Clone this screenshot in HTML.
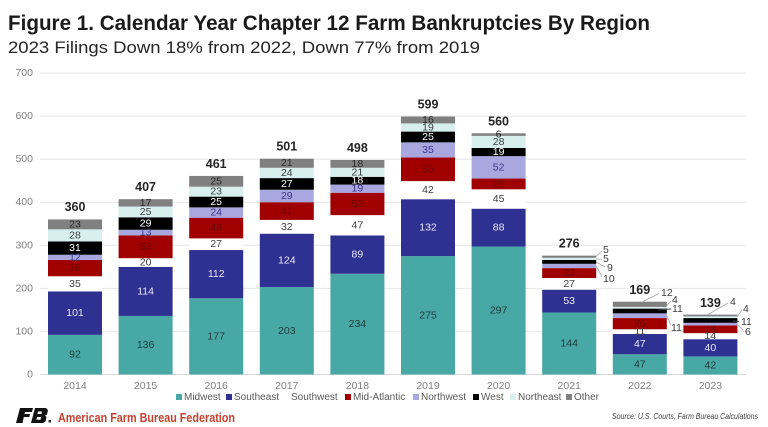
<!DOCTYPE html>
<html>
<head>
<meta charset="utf-8">
<style>
  html,body{margin:0;padding:0;background:#fff;}
  svg{display:block;font-family:"Liberation Sans",Arial,sans-serif;}
  .mw{fill:#47a8a6}.se{fill:#2f3192}.sw{fill:#ffffff}.ma{fill:#a00000}
  .nw{fill:#a9a7df}.w{fill:#000}.ne{fill:#d7efed}.o{fill:#808080}
  .lb{font-size:10.5px;text-anchor:middle;dominant-baseline:central;}
  .tmw{fill:#1f3b3b}.tse{fill:#e8e8f6}.tsw{fill:#404040}.tma{fill:#6a0808}
  .tnw{fill:#3a3a8c}.tw{fill:#ffffff}.tne{fill:#404040}.to{fill:#2a2a2a}
  .tot{font-size:12.5px;font-weight:bold;text-anchor:middle;dominant-baseline:central;fill:#262626}
  .ax{font-size:10.5px;fill:#7f7f7f;}
  .side{font-size:10.5px;fill:#404040;dominant-baseline:central;}
  .leg{font-size:10px;fill:#595959;dominant-baseline:central;}
</style>
</head>
<body>
<svg width="768" height="427" viewBox="0 0 768 427" xmlns="http://www.w3.org/2000/svg">
<rect width="768" height="427" fill="#fff"/>

<!-- Title -->
<text x="8" y="30" font-size="21" font-weight="bold" fill="#1a1a1a" textLength="642" lengthAdjust="spacingAndGlyphs">Figure 1. Calendar Year Chapter 12 Farm Bankruptcies By Region</text>
<text x="8" y="53" font-size="17" fill="#262626" textLength="472" lengthAdjust="spacingAndGlyphs">2023 Filings Down 18% from 2022, Down 77% from 2019</text>

<!-- Gridlines -->
<g stroke="#e6e6e6" stroke-width="1">
  <line x1="40" x2="746" y1="73" y2="73"/>
  <line x1="40" x2="746" y1="116.1" y2="116.1"/>
  <line x1="40" x2="746" y1="159.2" y2="159.2"/>
  <line x1="40" x2="746" y1="202.2" y2="202.2"/>
  <line x1="40" x2="746" y1="245.3" y2="245.3"/>
  <line x1="40" x2="746" y1="288.4" y2="288.4"/>
  <line x1="40" x2="746" y1="331.4" y2="331.4"/>
  <line x1="40" x2="746" y1="374.5" y2="374.5" stroke="#d9d9d9"/>
</g>

<!-- Y axis labels -->
<g class="ax" text-anchor="end" dominant-baseline="central">
  <text x="33" y="73">700</text>
  <text x="33" y="116.1">600</text>
  <text x="33" y="159.2">500</text>
  <text x="33" y="202.2">400</text>
  <text x="33" y="245.3">300</text>
  <text x="33" y="288.4">200</text>
  <text x="33" y="331.4">100</text>
  <text x="33" y="374.5">0</text>
</g>

<!-- Bars -->
<g transform="matrix(1 0 0 -0.4307 0 374.5)">
  <!-- 2014 -->
  <rect class="mw" x="48" y="0" width="54" height="92"/>
  <rect class="se" x="48" y="92" width="54" height="101"/>
  <rect class="sw" x="48" y="193" width="54" height="35"/>
  <rect class="ma" x="48" y="228" width="54" height="38"/>
  <rect class="nw" x="48" y="266" width="54" height="12"/>
  <rect class="w" x="48" y="278" width="54" height="31"/>
  <rect class="ne" x="48" y="309" width="54" height="28"/>
  <rect class="o" x="48" y="337" width="54" height="23"/>
  <!-- 2015 -->
  <rect class="mw" x="118.6" y="0" width="54" height="136"/>
  <rect class="se" x="118.6" y="136" width="54" height="114"/>
  <rect class="sw" x="118.6" y="250" width="54" height="20"/>
  <rect class="ma" x="118.6" y="270" width="54" height="53"/>
  <rect class="nw" x="118.6" y="323" width="54" height="13"/>
  <rect class="w" x="118.6" y="336" width="54" height="29"/>
  <rect class="ne" x="118.6" y="365" width="54" height="25"/>
  <rect class="o" x="118.6" y="390" width="54" height="17"/>
  <!-- 2016 -->
  <rect class="mw" x="189.2" y="0" width="54" height="177"/>
  <rect class="se" x="189.2" y="177" width="54" height="112"/>
  <rect class="sw" x="189.2" y="289" width="54" height="27"/>
  <rect class="ma" x="189.2" y="316" width="54" height="48"/>
  <rect class="nw" x="189.2" y="364" width="54" height="24"/>
  <rect class="w" x="189.2" y="388" width="54" height="25"/>
  <rect class="ne" x="189.2" y="413" width="54" height="23"/>
  <rect class="o" x="189.2" y="436" width="54" height="25"/>
  <!-- 2017 -->
  <rect class="mw" x="259.8" y="0" width="54" height="203"/>
  <rect class="se" x="259.8" y="203" width="54" height="124"/>
  <rect class="sw" x="259.8" y="327" width="54" height="32"/>
  <rect class="ma" x="259.8" y="359" width="54" height="41"/>
  <rect class="nw" x="259.8" y="400" width="54" height="29"/>
  <rect class="w" x="259.8" y="429" width="54" height="27"/>
  <rect class="ne" x="259.8" y="456" width="54" height="24"/>
  <rect class="o" x="259.8" y="480" width="54" height="21"/>
  <!-- 2018 -->
  <rect class="mw" x="330.4" y="0" width="54" height="234"/>
  <rect class="se" x="330.4" y="234" width="54" height="89"/>
  <rect class="sw" x="330.4" y="323" width="54" height="47"/>
  <rect class="ma" x="330.4" y="370" width="54" height="52"/>
  <rect class="nw" x="330.4" y="422" width="54" height="19"/>
  <rect class="w" x="330.4" y="441" width="54" height="18"/>
  <rect class="ne" x="330.4" y="459" width="54" height="21"/>
  <rect class="o" x="330.4" y="480" width="54" height="18"/>
  <!-- 2019 -->
  <rect class="mw" x="401" y="0" width="54" height="275"/>
  <rect class="se" x="401" y="275" width="54" height="132"/>
  <rect class="sw" x="401" y="407" width="54" height="42"/>
  <rect class="ma" x="401" y="449" width="54" height="55"/>
  <rect class="nw" x="401" y="504" width="54" height="35"/>
  <rect class="w" x="401" y="539" width="54" height="25"/>
  <rect class="ne" x="401" y="564" width="54" height="19"/>
  <rect class="o" x="401" y="583" width="54" height="16"/>
  <!-- 2020 -->
  <rect class="mw" x="471.6" y="0" width="54" height="297"/>
  <rect class="se" x="471.6" y="297" width="54" height="88"/>
  <rect class="sw" x="471.6" y="385" width="54" height="45"/>
  <rect class="ma" x="471.6" y="430" width="54" height="25"/>
  <rect class="nw" x="471.6" y="455" width="54" height="52"/>
  <rect class="w" x="471.6" y="507" width="54" height="19"/>
  <rect class="ne" x="471.6" y="526" width="54" height="28"/>
  <rect class="o" x="471.6" y="554" width="54" height="6"/>
  <!-- 2021 -->
  <rect class="mw" x="542.2" y="0" width="54" height="144"/>
  <rect class="se" x="542.2" y="144" width="54" height="53"/>
  <rect class="sw" x="542.2" y="197" width="54" height="27"/>
  <rect class="ma" x="542.2" y="224" width="54" height="23"/>
  <rect class="nw" x="542.2" y="247" width="54" height="10"/>
  <rect class="w" x="542.2" y="257" width="54" height="9"/>
  <rect class="ne" x="542.2" y="266" width="54" height="5"/>
  <rect class="o" x="542.2" y="271" width="54" height="5"/>
  <!-- 2022 -->
  <rect class="mw" x="612.8" y="0" width="54" height="47"/>
  <rect class="se" x="612.8" y="47" width="54" height="47"/>
  <rect class="sw" x="612.8" y="94" width="54" height="11"/>
  <rect class="ma" x="612.8" y="105" width="54" height="26"/>
  <rect class="nw" x="612.8" y="131" width="54" height="11"/>
  <rect class="w" x="612.8" y="142" width="54" height="11"/>
  <rect class="ne" x="612.8" y="153" width="54" height="4"/>
  <rect class="o" x="612.8" y="157" width="54" height="12"/>
  <!-- 2023 -->
  <rect class="mw" x="683.4" y="0" width="54" height="42"/>
  <rect class="se" x="683.4" y="42" width="54" height="40"/>
  <rect class="sw" x="683.4" y="82" width="54" height="14"/>
  <rect class="ma" x="683.4" y="96" width="54" height="18"/>
  <rect class="nw" x="683.4" y="114" width="54" height="6"/>
  <rect class="w" x="683.4" y="120" width="54" height="11"/>
  <rect class="ne" x="683.4" y="131" width="54" height="4"/>
  <rect class="o" x="683.4" y="135" width="54" height="4"/>
</g>

<!-- Segment labels -->
<g class="lb">
  <!-- 2014 cx 75 -->
  <text class="tmw" x="75" y="354.7">92</text>
  <text class="tse" x="75" y="313.1">101</text>
  <text class="tsw" x="75" y="283.8">35</text>
  <text class="tma" x="75" y="268.1">38</text>
  <text class="tnw" x="75" y="257.3">12</text>
  <text class="tw" x="75" y="248.1">31</text>
  <text class="tne" x="75" y="235.4">28</text>
  <text class="to" x="75" y="224.4">23</text>
  <!-- 2015 cx 145.6 -->
  <text class="tmw" x="145.6" y="345.2">136</text>
  <text class="tse" x="145.6" y="291.4">114</text>
  <text class="tsw" x="145.6" y="262.5">20</text>
  <text class="tma" x="145.6" y="246.8">53</text>
  <text class="tnw" x="145.6" y="232.6">13</text>
  <text class="tw" x="145.6" y="223.5">29</text>
  <text class="tne" x="145.6" y="211.9">25</text>
  <text class="to" x="145.6" y="202.9">17</text>
  <!-- 2016 cx 216.2 -->
  <text class="tmw" x="216.2" y="336.4">177</text>
  <text class="tse" x="216.2" y="274.1">112</text>
  <text class="tsw" x="216.2" y="244.2">27</text>
  <text class="tma" x="216.2" y="228.1">48</text>
  <text class="tnw" x="216.2" y="212.6">24</text>
  <text class="tw" x="216.2" y="202">25</text>
  <text class="tne" x="216.2" y="191.7">23</text>
  <text class="to" x="216.2" y="181.3">25</text>
  <!-- 2017 cx 286.8 -->
  <text class="tmw" x="286.8" y="330.8">203</text>
  <text class="tse" x="286.8" y="260.4">124</text>
  <text class="tsw" x="286.8" y="226.8">32</text>
  <text class="tma" x="286.8" y="211">41</text>
  <text class="tnw" x="286.8" y="196">29</text>
  <text class="tw" x="286.8" y="183.9">27</text>
  <text class="tne" x="286.8" y="172.9">24</text>
  <text class="to" x="286.8" y="163.2">21</text>
  <!-- 2018 cx 357.4 -->
  <text class="tmw" x="357.4" y="324.1">234</text>
  <text class="tse" x="357.4" y="254.5">89</text>
  <text class="tsw" x="357.4" y="225.3">47</text>
  <text class="tma" x="357.4" y="203.9">52</text>
  <text class="tnw" x="357.4" y="188.7">19</text>
  <text class="tw" x="357.4" y="180.7">18</text>
  <text class="tne" x="357.4" y="172.3">21</text>
  <text class="to" x="357.4" y="163.9">18</text>
  <!-- 2019 cx 428 -->
  <text class="tmw" x="428" y="315.3">275</text>
  <text class="tse" x="428" y="227.6">132</text>
  <text class="tsw" x="428" y="190.2">42</text>
  <text class="tma" x="428" y="169.3">55</text>
  <text class="tnw" x="428" y="149.9">35</text>
  <text class="tw" x="428" y="137">25</text>
  <text class="tne" x="428" y="127.5">19</text>
  <text class="to" x="428" y="120">16</text>
  <!-- 2020 cx 498.6 -->
  <text class="tmw" x="498.6" y="310.5">297</text>
  <text class="tse" x="498.6" y="227.6">88</text>
  <text class="tsw" x="498.6" y="199">45</text>
  <text class="tma" x="498.6" y="183.9">25</text>
  <text class="tnw" x="498.6" y="167.3">52</text>
  <text class="tw" x="498.6" y="152">19</text>
  <text class="tne" x="498.6" y="141.9">28</text>
  <text class="to" x="498.6" y="134.6">6</text>
  <!-- 2021 cx 569.2 -->
  <text class="tmw" x="569.2" y="343.5">144</text>
  <text class="tse" x="569.2" y="301.1">53</text>
  <text class="tsw" x="569.2" y="283.8">27</text>
  <text class="tma" x="569.2" y="273.1">23</text>
  <!-- 2022 cx 639.8 -->
  <text class="tmw" x="639.8" y="364.4">47</text>
  <text class="tse" x="639.8" y="344.1">47</text>
  <text class="tsw" x="639.8" y="331.6">11</text>
  <text class="tma" x="639.8" y="323.7">26</text>
  <!-- 2023 cx 710.4 -->
  <text class="tmw" x="710.4" y="365.5">42</text>
  <text class="tse" x="710.4" y="347.8">40</text>
  <text class="tsw" x="710.4" y="336.2">14</text>
  <text class="tma" x="710.4" y="329.3">18</text>
</g>

<!-- Leader lines -->
<g stroke="#a6a6a6" stroke-width="0.8" fill="none">
  <line x1="596.2" y1="256.5" x2="602" y2="251"/>
  <line x1="596.2" y1="258.9" x2="602" y2="259.5"/>
  <line x1="596.2" y1="262" x2="605" y2="267"/>
  <line x1="596.2" y1="266" x2="602" y2="277"/>
  <line x1="643" y1="301.5" x2="659" y2="293.5"/>
  <line x1="666.8" y1="305.5" x2="671" y2="301"/>
  <line x1="666.8" y1="315.7" x2="671" y2="325"/>
  <line x1="708" y1="314.5" x2="728" y2="303"/>
  <line x1="737.4" y1="316.5" x2="742" y2="310"/>
  <line x1="737.4" y1="324" x2="743" y2="330"/>
</g>
<g stroke="#404040" stroke-width="0.9">
  <line x1="658" y1="310" x2="671" y2="309"/>
  <line x1="733" y1="321" x2="739" y2="321.5"/>
</g>

<!-- Side labels -->
<g class="side">
  <text x="603" y="250">5</text>
  <text x="603" y="259">5</text>
  <text x="607" y="268">9</text>
  <text x="603" y="279">10</text>
  <text x="661" y="293">12</text>
  <text x="672" y="300">4</text>
  <text x="672" y="309">11</text>
  <text x="671" y="328">11</text>
  <text x="730" y="302">4</text>
  <text x="743" y="309">4</text>
  <text x="741" y="322">11</text>
  <text x="745" y="332">6</text>
</g>

<!-- Totals -->
<g class="tot">
  <text x="75" y="207.2">360</text>
  <text x="145.6" y="187.2">407</text>
  <text x="216.2" y="163.9">461</text>
  <text x="286.8" y="146.7">501</text>
  <text x="357.4" y="148">498</text>
  <text x="428" y="104.5">599</text>
  <text x="498.6" y="121.3">560</text>
  <text x="569.2" y="243.6">276</text>
  <text x="639.8" y="290">169</text>
  <text x="710.4" y="303">139</text>
</g>

<!-- X axis labels -->
<g class="ax" text-anchor="middle" dominant-baseline="central" font-size="10">
  <text x="75" y="386">2014</text>
  <text x="145.6" y="386">2015</text>
  <text x="216.2" y="386">2016</text>
  <text x="286.8" y="386">2017</text>
  <text x="357.4" y="386">2018</text>
  <text x="428" y="386">2019</text>
  <text x="498.6" y="386">2020</text>
  <text x="569.2" y="386">2021</text>
  <text x="639.8" y="386">2022</text>
  <text x="710.4" y="386">2023</text>
</g>

<!-- Legend -->
<g>
  <rect class="mw" x="176" y="394" width="6" height="6"/>
  <text class="leg" x="184" y="397.5">Midwest</text>
  <rect class="se" x="226" y="394" width="6" height="6"/>
  <text class="leg" x="234" y="397.5">Southeast</text>
  <text class="leg" x="291" y="397.5">Southwest</text>
  <rect class="ma" x="345" y="394" width="6" height="6"/>
  <text class="leg" x="353" y="397.5">Mid-Atlantic</text>
  <rect class="nw" x="413" y="394" width="6" height="6"/>
  <text class="leg" x="421" y="397.5">Northwest</text>
  <rect class="w" x="473" y="394" width="6" height="6"/>
  <text class="leg" x="481" y="397.5">West</text>
  <rect class="ne" x="510" y="394" width="6" height="6"/>
  <text class="leg" x="518" y="397.5">Northeast</text>
  <rect class="o" x="566" y="394" width="6" height="6"/>
  <text class="leg" x="574" y="397.5">Other</text>
</g>

<!-- Logo mark -->
<g>
  <polygon points="20,408 33,408 32,412 25,412 24.5,414 30,414 29.3,417 23.8,417 22.5,423 16,423" fill="#111"/>
  <polygon points="35,408 46,408 48,410 47,414.5 45,415.5 46.5,417 45.5,421.5 43,423 31,423" fill="#111"/>
  <polygon points="38,411.5 42,411.5 41.5,414 37.5,414" fill="#fff"/>
  <polygon points="37,417 41,417 40.5,419.8 36.4,419.8" fill="#fff"/>
  <rect x="48.5" y="420" width="2.5" height="2.5" fill="#333"/>
</g>
<text x="58" y="422" font-size="12.5" font-weight="bold" fill="#c4432f" textLength="177" lengthAdjust="spacingAndGlyphs">American Farm Bureau Federation</text>
<text x="612" y="419" font-size="8.5" font-style="italic" fill="#404040" textLength="146" lengthAdjust="spacingAndGlyphs">Source: U.S. Courts, Farm Bureau Calculations</text>
</svg>
</body>
</html>
